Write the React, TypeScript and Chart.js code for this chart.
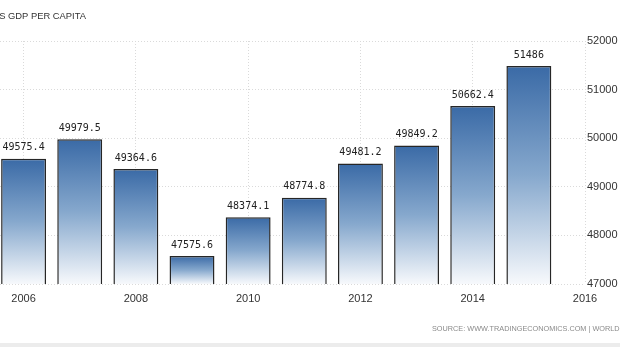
import React, { useEffect, useRef } from "react";
import { Chart, registerables } from "chart.js";

Chart.register(...registerables);

const years = [2006, 2007, 2008, 2009, 2010, 2011, 2012, 2013, 2014, 2015];
const gdpPerCapita = [49575.4, 49979.5, 49364.6, 47575.6, 48374.1, 48774.8, 49481.2, 49849.2, 50662.4, 51486];
const xTickYears = [2006, 2008, 2010, 2012, 2014, 2016];
const yMin = 47000;
const yMax = 52000;
const yStep = 1000;
const xMin = 2005.58;
const xMax = 2016;
const titleText = "UNITED STATES GDP PER CAPITA";
const sourceText = "SOURCE: WWW.TRADINGECONOMICS.COM | WORLD BANK";

const W = 620;
const H = 347;

const textPlugin = {
  id: "textPlugin",
  afterDatasetsDraw(chart: any) {
    const ctx = chart.ctx;
    const meta = chart.getDatasetMeta(0);
    ctx.save();
    ctx.font = "10px 'DejaVu Sans Mono'";
    ctx.fillStyle = "#222";
    ctx.textAlign = "center";
    ctx.textBaseline = "middle";
    meta.data.forEach((el: any, i: number) => {
      ctx.fillText(String(gdpPerCapita[i]), el.x, el.y - 11);
    });
    ctx.restore();
  },
  afterDraw(chart: any) {
    const ctx = chart.ctx;
    ctx.save();
    ctx.font = "9.4px 'Liberation Sans'";
    ctx.fillStyle = "#333";
    ctx.textAlign = "right";
    ctx.textBaseline = "middle";
    ctx.fillText(titleText, 86, 16);
    ctx.font = "7.3px 'Liberation Sans'";
    ctx.fillStyle = "#8a8a8a";
    ctx.textAlign = "left";
    ctx.fillText(sourceText, 432, 329);
    ctx.restore();
  },
};

export default function App() {
  const ref = useRef<HTMLCanvasElement | null>(null);

  useEffect(() => {
    if (!ref.current) return;
    const chart = new Chart(ref.current, {
      type: "bar",
      data: {
        datasets: [
          {
            data: years.map((y, i) => ({ x: y, y: gdpPerCapita[i] })),
            backgroundColor: (c: any) => {
              const ch = c.chart;
              if (c.type !== "data" || !ch.chartArea || !ch.scales.y) return "#5f88bb";
              const ys = ch.scales.y;
              const top = ys.getPixelForValue(c.parsed.y);
              const bottom = ys.getPixelForValue(ys.min);
              const g = ch.ctx.createLinearGradient(0, top, 0, bottom);
              g.addColorStop(0, "#3a6aa6");
              g.addColorStop(0.5, "#86a8cd");
              g.addColorStop(1, "#f7f9fc");
              return g;
            },
            borderColor: "#262626",
            borderWidth: 1.5,
            borderSkipped: false,
            barPercentage: 0.8,
            categoryPercentage: 1,
          } as any,
        ],
      },
      options: {
        animation: false,
        responsive: false,
        maintainAspectRatio: false,
        layout: { padding: { top: 41, left: 0, right: 0, bottom: 0 } },
        plugins: {
          legend: { display: false },
          tooltip: { enabled: false },
          title: { display: false },
        },
        scales: {
          x: {
            type: "linear",
            min: xMin,
            max: xMax,
            offset: false,
            afterBuildTicks: (s: any) => {
              s.ticks = xTickYears.map((v) => ({ value: v }));
            },
            afterFit: (s: any) => {
              s.height = 63;
            },
            ticks: {
              autoSkip: false,
              maxRotation: 0,
              padding: 8,
              color: "#333",
              font: { family: "'Liberation Sans'", size: 11 },
              callback: (v: any) => String(v),
            },
            grid: { color: "#dadada", drawTicks: false, offset: false },
            border: { display: false, dash: [1, 2] },
          },
          y: {
            position: "right",
            min: yMin,
            max: yMax,
            afterFit: (s: any) => {
              s.width = 35;
            },
            ticks: {
              stepSize: yStep,
              padding: 2,
              color: "#333",
              font: { family: "'Liberation Sans'", size: 11 },
              callback: (v: any) => String(v),
            },
            grid: { color: "#dadada", drawTicks: false },
            border: { display: false, dash: [1, 2] },
          },
        },
      } as any,
      plugins: [textPlugin],
    });
    return () => chart.destroy();
  }, []);

  return (
    <div style={{ position: "fixed", left: 0, top: 0, width: W, height: H, background: "#fff", overflow: "hidden" }}>
      <canvas ref={ref} width={W} height={H} style={{ display: "block" }} />
      <div style={{ position: "absolute", left: 0, top: 343, width: W, height: 4, background: "#ececec" }} />
    </div>
  );
}
